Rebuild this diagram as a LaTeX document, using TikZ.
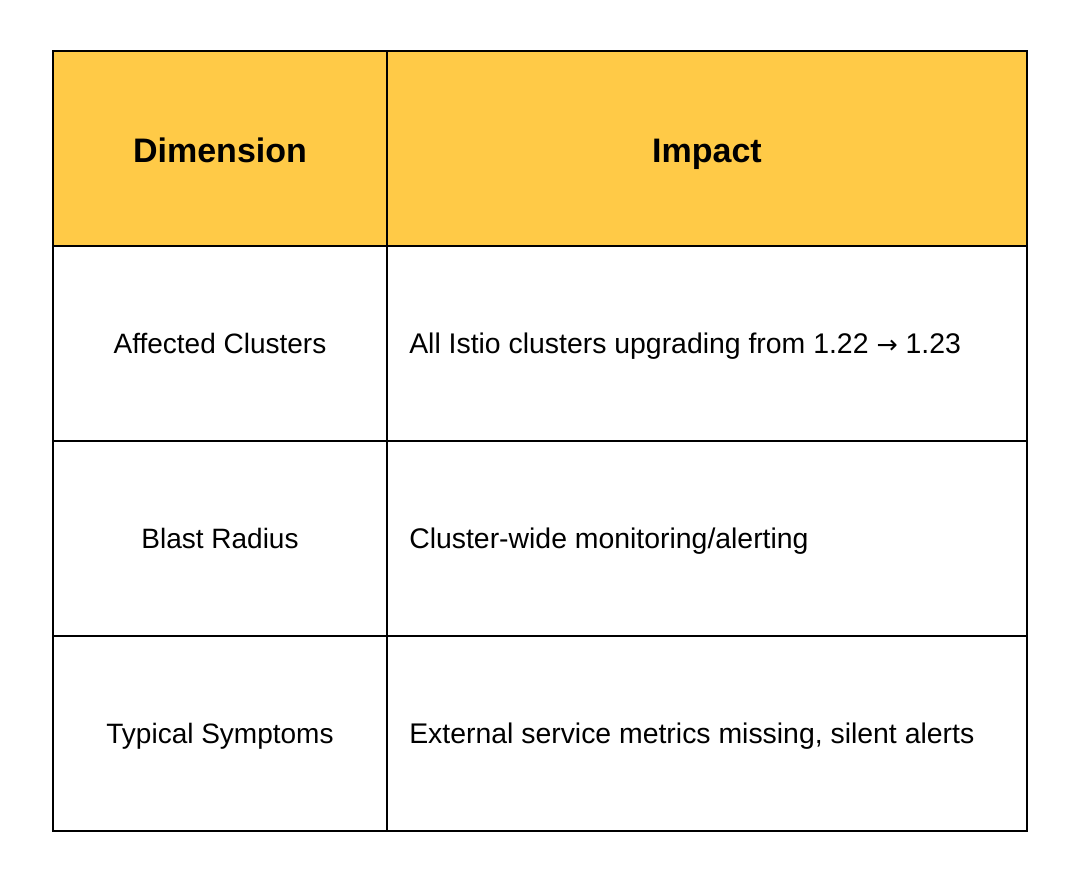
\documentclass[tikz,border=0pt]{standalone}
\usepackage{fontspec}
\setmainfont{Liberation Sans}
\newfontfamily\arrowfont{DejaVu Sans}
\usetikzlibrary{positioning}

\definecolor{headyellow}{HTML}{FFCA47}

\begin{document}
\begin{tikzpicture} [
    x = 0.75pt, y = -0.75pt,
    cell/.style = {draw = black, line width = 2.2pt},
    head/.style = {font = \fontsize{25.5}{30}\selectfont\bfseries, anchor = base},
    key/.style = {font = \fontsize{21}{24}\selectfont, anchor = base},
    val/.style = {font = \fontsize{21.3}{24}\selectfont, anchor = base west, inner sep = 0pt}
]
\useasboundingbox (0, 0) rectangle (1080, 883);

% header row
\fill [headyellow] (53, 51) rectangle (1027, 246);

% grid
\draw [cell] (53, 51) rectangle (1027, 831);
\draw [cell] (387, 51) -- (387, 831);
\foreach \y in {246, 441, 636}
    \draw [cell] (53, \y) -- (1027, \y);

% header labels
\node (dim) at (220, 162) [head] {Dimension};
\node (imp) at (707, 162) [head] {Impact};

% rows
\node (k1) at (220, 353) [key] {Affected Clusters};
\node (k2) at (220, 548) [key] {Blast Radius};
\node (k3) at (220, 743) [key] {Typical Symptoms};
\node (v1) at (409, 353) [val] {All Istio clusters upgrading from 1.22 {\arrowfont\fontsize{19}{24}\selectfont →} 1.23};
\node (v2) at (409, 548) [val] {Cluster-wide monitoring/alerting};
\node (v3) at (409, 743) [val] {External service metrics missing, silent alerts};

\end{tikzpicture}
\end{document}
